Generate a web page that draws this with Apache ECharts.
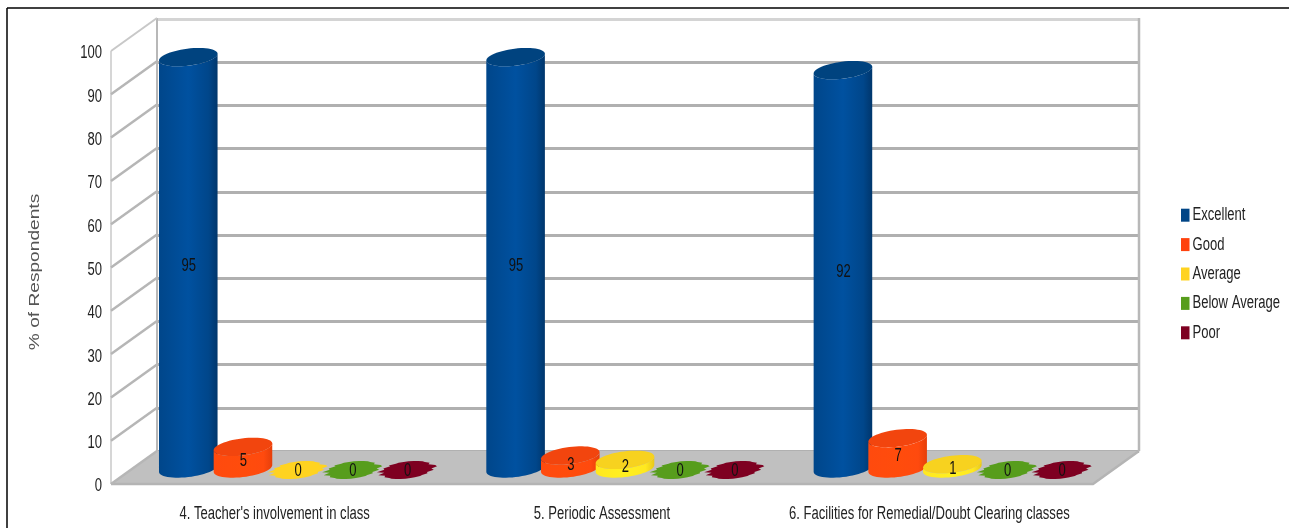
<!DOCTYPE html>
<html>
<head>
<meta charset="utf-8">
<style>html,body{margin:0;padding:0;background:#fff}#c{width:1289px;height:528px;filter:blur(0.45px)}</style>
<script src="https://cdn.jsdelivr.net/npm/echarts@6/dist/echarts.min.js"></script>
</head>
<body>
<div id="c"></div>
<script>
const categories = ["4. Teacher's involvement in class", "5. Periodic Assessment", "6. Facilities for Remedial/Doubt Clearing classes"];
const seriesNames = ["Excellent", "Good", "Average", "Below Average", "Poor"];
const excellent = [95, 95, 92];
const good = [5, 3, 7];
const average = [0, 2, 1];
const belowAverage = [0, 0, 0];
const poor = [0, 0, 0];
const yTicks = [0, 10, 20, 30, 40, 50, 60, 70, 80, 90, 100];
const yTitle = '% of Respondents';

const seriesValues = [excellent, good, average, belowAverage, poor];
const baseColors = ['#004586', '#ff420e', '#ffd320', '#579d1c', '#7e0021'];
const topColors = ['#00437f', '#f2450e', '#f7d21f', '#579d1c', '#7e0021'];
const bodyStops = [
  ['#00468a', '#0051a0', '#00366c'],
  ['#ff4a0e', '#ff4c0c', '#e63f0a'],
  ['#ffe820', '#fff020', '#e8c81a'],
  ['#579d1c', '#5fa81f', '#4a8817'],
  ['#7e0021', '#8a0025', '#6a001c']
];
const FONT = '"Liberation Sans",sans-serif';
const DX = 46, DY = 33, BAR_STEP = 54.7, RX = 29.5, RY = 8.5, TILT = 0.125;
// fixed horizontal wobble for the flattened zero-height discs
const JAG = [1.1,0.9,1.04,0.84,0.98,0.86,1,0.9,1,1.03,1,1,1,0.92,1,0.88,1.08,0.84,1.12,0.88,1.0,0.8,1.06,0.84,1.0,0.94,1,1.03,1,1,0.92,1,0.86,1.06];

function pt(cx, cy, t, rx) {
  rx = rx || RX;
  const c = Math.cos(TILT), s = Math.sin(TILT);
  return [cx + rx * Math.cos(t) * c + RY * Math.sin(t) * s,
          cy - rx * Math.cos(t) * s + RY * Math.sin(t) * c];
}
function arc(cx, cy, t0, t1, n) {
  const out = [];
  for (let i = 0; i <= n; i++) out.push(pt(cx, cy, t0 + (t1 - t0) * i / n));
  return out;
}
function cylinderItem(params, api) {
  const si = params.seriesIndex - 1;
  const v = api.value(1);
  const top = api.coord([api.value(0), v]);
  const base = api.coord([api.value(0), 0]);
  const cx = top[0] + DX / 2 + (si - 2) * BAR_STEP;
  const yTop = top[1] - DY / 2 + 1;
  const yBase = base[1] - DY / 2 + 1;
  const tr = Math.atan2(RY * Math.sin(TILT), RX * Math.cos(TILT));
  const kids = [];
  if (v === 0) {
    const pts = JAG.map((m, i) => pt(cx, yBase + 1.5, i / JAG.length * Math.PI * 2, RX * 0.93 * m));
    kids.push({type: 'polygon', shape: {points: pts}, style: {fill: baseColors[si]}});
  } else {
    const body = arc(cx, yBase, tr, tr + Math.PI, 28).concat(arc(cx, yTop, tr + Math.PI, tr, 28));
    const st = bodyStops[si];
    kids.push({type: 'polygon', shape: {points: body}, style: {fill: {
      type: 'linear', x: 0, y: 0, x2: 1, y2: 0,
      colorStops: [{offset: 0, color: st[0]}, {offset: 0.5, color: st[1]}, {offset: 0.85, color: st[0]}, {offset: 1, color: st[2]}]
    }}});
    kids.push({type: 'polygon', shape: {points: arc(cx, yTop, 0, Math.PI * 2, 56)}, style: {fill: topColors[si]}});
  }
  kids.push({type: 'text', style: {
    text: String(v), x: cx + 0.5, y: (yTop + yBase) / 2 + 3,
    fill: '#111', font: '18px ' + FONT, align: 'center', verticalAlign: 'middle'
  }});
  return {type: 'group', children: kids};
}
function frameItem(params, api) {
  const cs = params.coordSys;
  const v = api.value(0);
  const p = api.coord([0, v]);
  const x0 = cs.x, x1 = cs.x + cs.width, yb = cs.y + cs.height;
  const kids = [];
  if (params.dataIndex === 0) {
    kids.push({type: 'polygon', shape: {points: [[x0, yb], [x1, yb], [x1 + DX, yb - DY], [x0 + DX, yb - DY]]},
      style: {fill: '#c0c0c0'}});
    kids.push({type: 'polyline', shape: {points: [[x1 + DX, yb - DY], [x1, yb], [x0, yb]]},
      style: {fill: 'none', stroke: '#b4b4b4', lineWidth: 2.5}});
    kids.push({type: 'line', shape: {x1: x0, y1: yb, x2: x0, y2: cs.y},
      style: {stroke: '#c8c8c8', lineWidth: 1.5}});
    kids.push({type: 'line', shape: {x1: x0 + DX, y1: yb - DY, x2: x0 + DX, y2: cs.y - DY},
      style: {stroke: '#b8b8b8', lineWidth: 2}});
    kids.push({type: 'line', shape: {x1: x1 + DX, y1: yb - DY, x2: x1 + DX, y2: cs.y - DY},
      style: {stroke: '#b8b8b8', lineWidth: 2.5}});
  }
  kids.push({type: 'line', shape: {x1: x0, y1: p[1], x2: x0 + DX, y2: p[1] - DY},
    style: {stroke: v === 100 ? '#c8c8c8' : '#b6b6b6', lineWidth: v === 100 ? 2 : 2.5}});
  return {type: 'group', children: kids};
}

const series = [{
  type: 'custom', name: 'walls', xAxisIndex: 0, yAxisIndex: 0, silent: true, z: 1,
  data: yTicks.map(v => [v]), renderItem: frameItem, encode: {y: 0}
}].concat(seriesNames.map((name, si) => ({
  type: 'custom', name: name, xAxisIndex: 0, yAxisIndex: 0, z: 3,
  itemStyle: {color: baseColors[si]},
  data: seriesValues[si].map((v, i) => [i, v]),
  encode: {x: 0, y: 1},
  renderItem: cylinderItem
})));

const chart = echarts.init(document.getElementById('c'), null, {renderer: 'canvas'});
chart.setOption({
  animation: false,
  backgroundColor: '#ffffff',
  textStyle: {fontFamily: FONT},
  grid: [
    {left: 111, right: 196, top: 51, bottom: 44},
    {left: 157, right: 150, top: 19, bottom: 77}
  ],
  xAxis: [
    {type: 'category', gridIndex: 0, data: categories,
      axisLine: {show: false}, axisTick: {show: false}, splitLine: {show: false},
      axisLabel: {color: '#222', fontFamily: FONT, fontSize: 18, margin: 21, interval: 0}},
    {type: 'category', gridIndex: 1, data: categories, show: false}
  ],
  yAxis: [
    {type: 'value', gridIndex: 0, min: 0, max: 100, interval: 10,
      name: yTitle, nameLocation: 'middle', nameRotate: 90, nameGap: 69,
      nameTextStyle: {color: '#555', fontFamily: FONT, fontSize: 14.5},
      axisLine: {show: false}, axisTick: {show: false}, splitLine: {show: false},
      axisLabel: {color: '#222', fontFamily: FONT, fontSize: 18, margin: 9}},
    {type: 'value', gridIndex: 1, min: 0, max: 100, interval: 10,
      axisLine: {show: false}, axisTick: {show: false}, axisLabel: {show: false},
      splitLine: {show: true, lineStyle: {width: 3, color: ['#b0b0b0','#b0b0b0','#b0b0b0','#b0b0b0','#b0b0b0','#b0b0b0','#b0b0b0','#b0b0b0','#b0b0b0','#b0b0b0','#d4d4d4']}}}
  ],
  legend: {
    orient: 'vertical', left: 1176, top: 201, icon: 'rect',
    itemWidth: 8.5, itemHeight: 13, itemGap: 11, data: seriesNames, selectedMode: false,
    textStyle: {color: '#222', fontFamily: FONT, fontSize: 18, lineHeight: 18.4, padding: [0, 0, 0, -2]}
  },
  graphic: [
    {type: 'line', z: 100, shape: {x1: 7, y1: 8, x2: 1289, y2: 8}, style: {stroke: '#000', lineWidth: 1.5}},
    {type: 'line', z: 100, shape: {x1: 7, y1: 8, x2: 7, y2: 528}, style: {stroke: '#000', lineWidth: 1.5}}
  ],
  series: series
});

// The reference's text is squeezed horizontally (and its axis title stretched):
// no narrow face is installed, so scale the real text objects about their anchor.
const zr = chart.getZr();
zr.storage.getDisplayList(true).forEach(el => {
  const text = el.style && el.style.text;
  if (typeof text !== 'string' || !text) return;
  const isTitle = text === yTitle;
  el.scaleX = isTitle ? 1.32 : 0.725;
  el.originX = el.style.x || 0;
  el.originY = el.style.y || 0;
  if (isTitle) el.x = -4.5;
  else if (el.style.textAlign === 'right') el.y = 2.5; // y tick labels sit a little low in the reference
  el.markRedraw();
});
zr.refreshImmediately();
</script>
</body>
</html>
